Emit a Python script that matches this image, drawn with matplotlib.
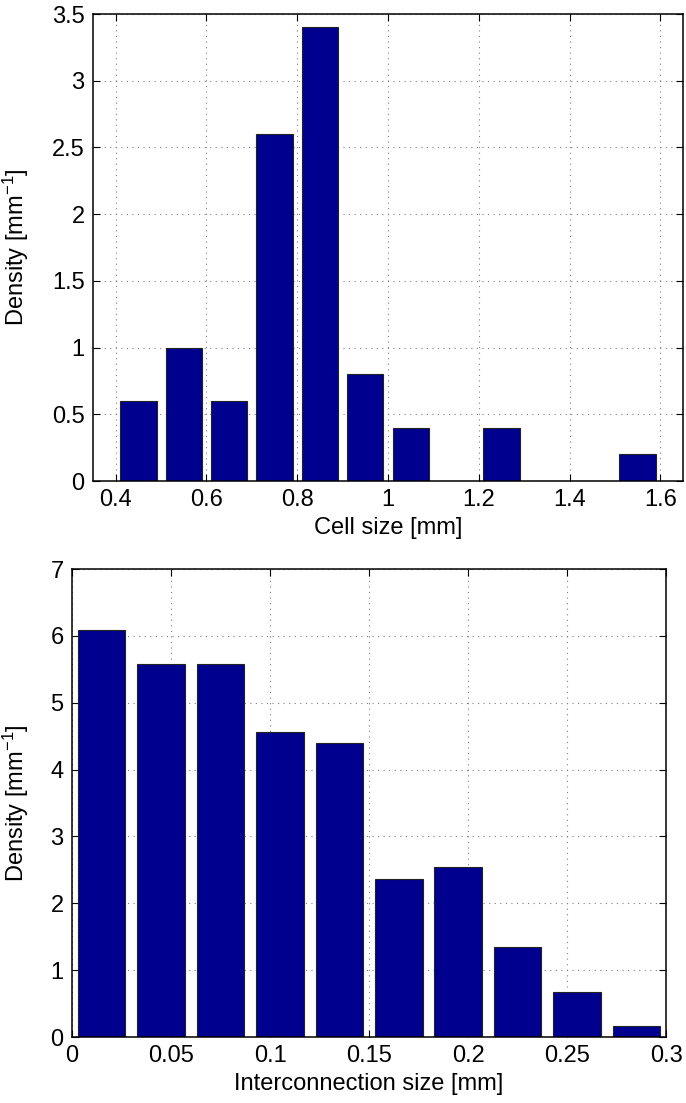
import numpy as np
import matplotlib
matplotlib.use('Agg')
import matplotlib.pyplot as plt
from matplotlib.ticker import FuncFormatter

plt.rcParams['font.family'] = ['Liberation Sans', 'DejaVu Sans']
plt.rcParams['mathtext.fontset'] = 'custom'
plt.rcParams['mathtext.rm'] = 'Liberation Sans'
plt.rcParams['mathtext.it'] = 'Liberation Sans'

# cell size histogram (bin centres, mm) and density (1/mm)
cell_centers = [0.45, 0.55, 0.65, 0.75, 0.85, 0.95, 1.05, 1.15, 1.25, 1.35, 1.45, 1.55]
cell_density = [0.6, 1.0, 0.6, 2.6, 3.4, 0.8, 0.4, 0.0, 0.4, 0.0, 0.0, 0.2]
cell_binw = 0.1

# interconnection size histogram
conn_centers = [0.015, 0.045, 0.075, 0.105, 0.135, 0.165, 0.195, 0.225, 0.255, 0.285]
conn_density = [6.09, 5.58, 5.58, 4.57, 4.40, 2.37, 2.54, 1.35, 0.68, 0.17]
conn_binw = 0.03

cell_xticks = [0.4, 0.6, 0.8, 1.0, 1.2, 1.4, 1.6]
cell_yticks = [0, 0.5, 1, 1.5, 2, 2.5, 3, 3.5]
conn_xticks = [0, 0.05, 0.1, 0.15, 0.2, 0.25, 0.3]
conn_yticks = [0, 1, 2, 3, 4, 5, 6, 7]

bar_color = (0, 0, 0.5625)
fs = 17

def gfmt(v, pos):
    return '%g' % v

def style(ax, xt, yt, xlim, ylim):
    ax.set_xlim(*xlim)
    ax.set_ylim(*ylim)
    ax.set_xticks(xt)
    ax.set_yticks(yt)
    ax.xaxis.set_major_formatter(FuncFormatter(gfmt))
    ax.yaxis.set_major_formatter(FuncFormatter(gfmt))
    ax.tick_params(direction='in', length=5, width=0.8, labelsize=fs,
                   top=True, right=True, pad=6)
    ax.set_axisbelow(True)
    ax.grid(True, linestyle=(0, (1, 4)), color='#808080', linewidth=0.8)
    for s in ax.spines.values():
        s.set_linewidth(1.1)

fig = plt.figure(figsize=(6.86, 11.03), dpi=100)

ax1 = fig.add_axes([0.1356, 0.5639, 0.860, 0.4234])
ax1.bar(cell_centers, cell_density, width=0.8 * cell_binw, color=bar_color,
        edgecolor='#222222', linewidth=0.8)
style(ax1, cell_xticks, cell_yticks, (0.35, 1.65), (0, 3.5))
ax1.set_xlabel('Cell size [mm]', fontsize=fs, labelpad=4)
ax1.set_ylabel('Density [mm$^{-1}$]', fontsize=fs)
ax1.yaxis.set_label_coords(-0.105, 0.5)

ax2 = fig.add_axes([0.105, 0.0598, 0.866, 0.4243])
ax2.bar(conn_centers, conn_density, width=0.8 * conn_binw, color=bar_color,
        edgecolor='#222222', linewidth=0.8)
style(ax2, conn_xticks, conn_yticks, (0, 0.3), (0, 7))
ax2.set_xlabel('Interconnection size [mm]', fontsize=fs, labelpad=4)
ax2.set_ylabel('Density [mm$^{-1}$]', fontsize=fs)
ax2.yaxis.set_label_coords(-0.069, 0.5)

fig.savefig('out.png', dpi=100)
